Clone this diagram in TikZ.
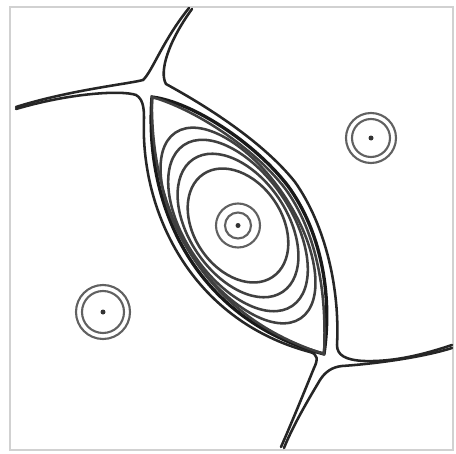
\documentclass[tikz,border=0pt]{standalone}
\usepackage{tikz}
\usetikzlibrary{calc}
\tikzset{
    frame/.style={draw=black!18, line width=0.6pt},
    arm/.style={draw=black!85, line width=1.45pt, line cap=round},
    lens/.style={draw=black!90, line width=1.9pt, line join=round},
    orbit/.style={draw=black!75, line width=1.45pt},
    ring/.style={draw=black!62, line width=1.2pt},
    centre/.style={fill=black!80},
}

\begin{document}
\begin{tikzpicture}[x=0.02cm, y=-0.02cm]
    \useasboundingbox (0,0) rectangle (456,453);
    \draw[frame] (10,7) rectangle (453,450);
    % fixed points
    \coordinate (c0) at (238,225.5);
    \coordinate (c1) at (371,138);
    \coordinate (c2) at (103,312);
    \coordinate (top) at (152,97);
    \coordinate (bot) at (324,354);
    % separatrix loop and an orbit just inside it
    \draw[lens] (top) .. controls (192,102) and (254,142) .. (288,186)
        .. controls (320,230) and (333,292) .. (bot)
        .. controls (190,318) and (144,200) .. cycle;
    \draw[orbit, scale around={0.94:(c0)}] (top) .. controls (192,102) and (254,142) .. (288,186)
        .. controls (320,230) and (333,292) .. (bot)
        .. controls (190,318) and (144,200) .. cycle;
    % closed orbits round the centre
    \foreach \a/\b in {62/44, 80/49, 97/53, 112/55}
        \draw[orbit, rotate around={-56:(c0)}] (c0) ellipse [x radius=\a, y radius=\b];
    % arms of the upper saddle
    \draw[arm] (16,107) .. controls (70,90) and (128,84) .. (143,80)
        .. controls (152,72) and (163,40) .. (189,8);
    \draw[arm] (192,9) .. controls (168,42) and (159,72) .. (166,84)
        .. controls (197,101) and (260,138) .. (295,182)
        .. controls (326,226) and (340,290) .. (337,345)
        .. controls (337,355) and (345,360) .. (364,361)
        .. controls (395,362) and (425,354) .. (452,345);
    \draw[arm] (16,109) .. controls (70,93) and (122,90) .. (136,95)
        .. controls (143,99) and (144,108) .. (144,118)
        .. controls (140,210) and (190,320) .. (310,352)
        .. controls (318,354) and (318,360) .. (314,368)
        .. controls (305,390) and (292,422) .. (281,447);
    % arms of the lower saddle
    \draw[arm] (452,348) .. controls (420,358) and (372,364) .. (342,366)
        .. controls (332,367) and (325,372) .. (320,380)
        .. controls (305,405) and (292,428) .. (284,448);
    % centres
    \foreach \r in {13, 22}
        \draw[ring] (c0) circle [radius=\r];
    \foreach \r in {19, 25}
        \draw[ring] (c1) circle [radius=\r];
    \foreach \r in {21, 27}
        \draw[ring] (c2) circle [radius=\r];
    \foreach \c in {c0, c1, c2}
        \fill[centre] (\c) circle [radius=2.5];
\end{tikzpicture}
\end{document}
